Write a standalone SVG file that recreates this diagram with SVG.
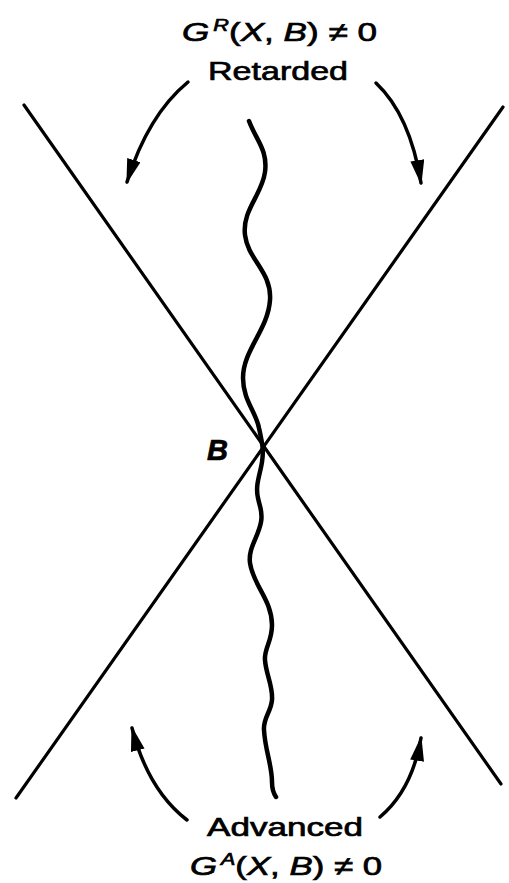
<svg xmlns="http://www.w3.org/2000/svg" width="509" height="883" viewBox="0 0 509 883">
<style>
.ln{stroke:#000;stroke-width:3.2;fill:none;stroke-linecap:round}
.wv{stroke:#000;stroke-width:4.5;fill:none;stroke-linecap:round;stroke-linejoin:round}
.ar{stroke:#000;stroke-width:3.5;fill:none;stroke-linecap:round}
.t{font-family:"Liberation Sans",Arial,sans-serif;font-size:26px;fill:#000;stroke:#000;stroke-width:0.7}
.i{font-style:italic}
.s{font-size:16px;font-style:italic}
</style>
<defs>
<marker id="ah" markerUnits="userSpaceOnUse" markerWidth="28" markerHeight="16" refX="23" refY="7" orient="auto">
<path d="M0,0 L25,7 L0,14 z" fill="#000"/>
</marker>
</defs>
<rect width="509" height="883" fill="#fff"/>
<g id="connectors">
<line class="ln" x1="24" y1="105" x2="501" y2="784"/>
<line class="ln" x1="503" y1="107" x2="16" y2="798"/>
<path class="wv" d="M249,121 C256,140 268,150 265,172 C262,195 242,210 245,235 C248,260 272,272 270,300 C268,330 243,350 243,378 C243,400 256,412 259,428 C262,442 264,450 262,462 C260,475 255,485 258,498 C260,508 263,512 261,522 C258,538 248,548 250,563 C253,585 272,600 272,625 C272,642 264,648 265,660 C266,675 273,685 272,700 C271,712 263,718 264,730 C265,750 272,765 272,782 C272,790 274,794 276,797"/>
<path class="ar" marker-end="url(#ah)" d="M188,82 Q148,115 127,182"/>
<path class="ar" marker-end="url(#ah)" d="M376,83 Q410,115 421,183"/>
<path class="ar" marker-end="url(#ah)" d="M187,820 Q148,790 132,728"/>
<path class="ar" marker-end="url(#ah)" d="M380,817 Q412,790 421,738"/>
</g>
<g id="top-label">
<text class="t" x="182" y="41" textLength="195" lengthAdjust="spacingAndGlyphs"><tspan class="i">G</tspan><tspan class="s" dx="3" dy="-10">R</tspan><tspan dy="10">(</tspan><tspan class="i">X</tspan>, <tspan class="i">B</tspan>) ≠ 0</text>
<text class="t" x="208" y="80" textLength="140" lengthAdjust="spacingAndGlyphs">Retarded</text>
</g>
<g id="B">
<text class="t" x="207" y="460" font-weight="bold" font-style="italic" style="font-size:29px">B</text>
</g>
<g id="bottom-label">
<text class="t" x="207" y="836" textLength="156" lengthAdjust="spacingAndGlyphs">Advanced</text>
<text class="t" x="190" y="875" textLength="192" lengthAdjust="spacingAndGlyphs"><tspan class="i">G</tspan><tspan class="s" dx="3" dy="-10">A</tspan><tspan dy="10">(</tspan><tspan class="i">X</tspan>, <tspan class="i">B</tspan>) ≠ 0</text>
</g>
</svg>
